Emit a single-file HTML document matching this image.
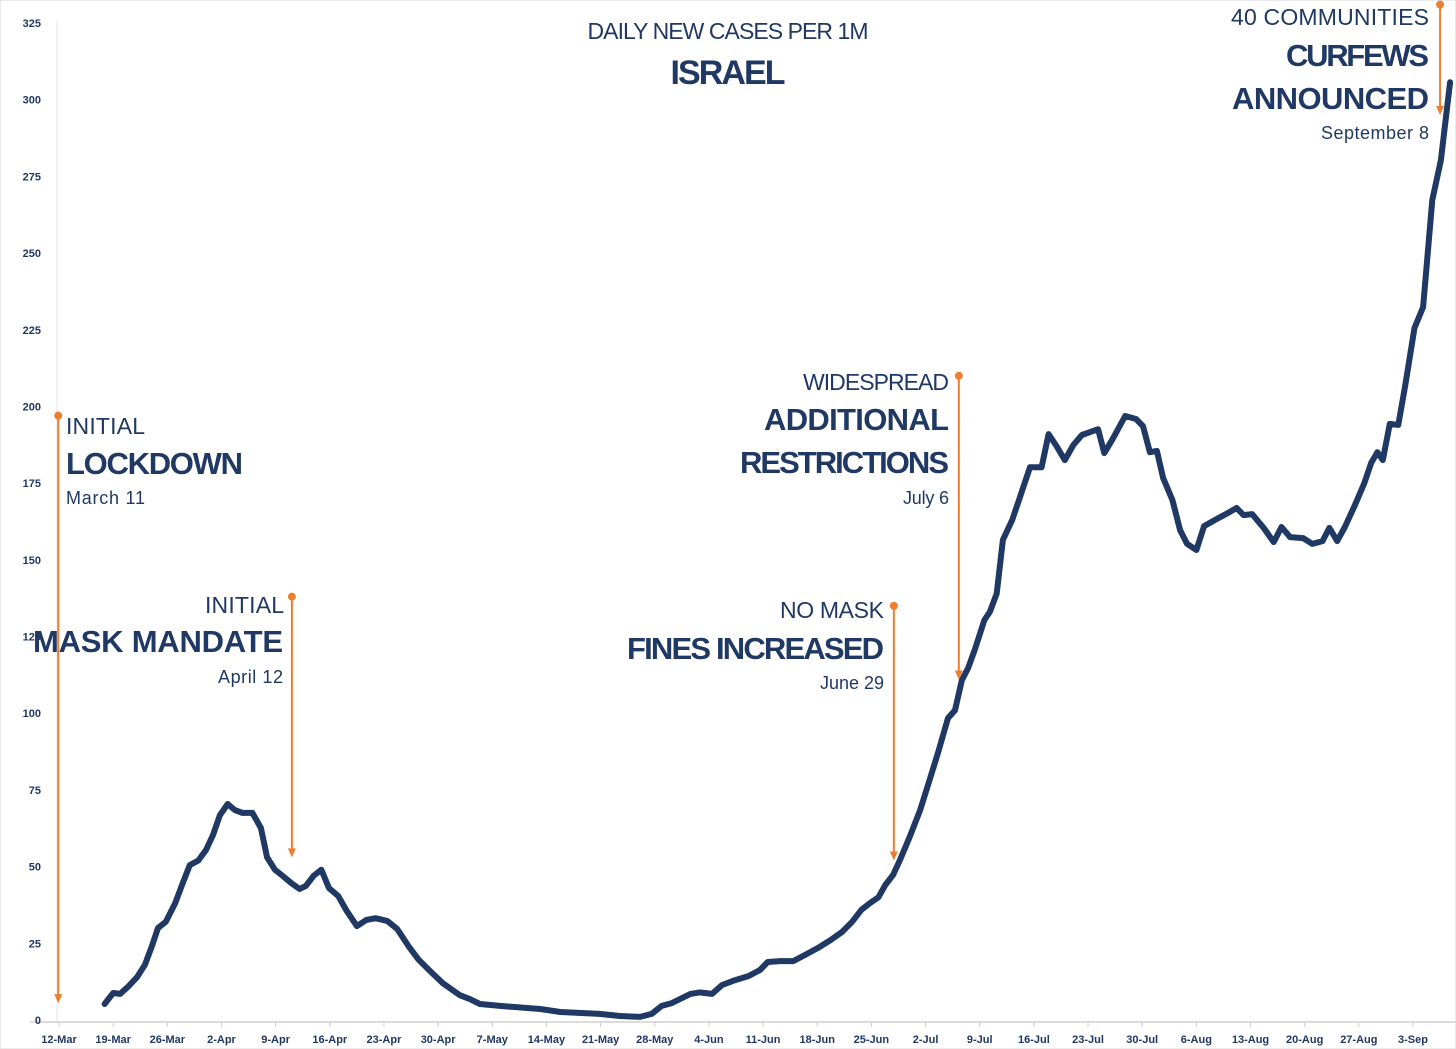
<!DOCTYPE html>
<html><head><meta charset="utf-8">
<style>
html,body{margin:0;padding:0;background:#fff;}
svg{display:block;font-family:"Liberation Sans",sans-serif;}
</style></head>
<body>
<svg id="chart" width="1456" height="1049" viewBox="0 0 1456 1049" xmlns="http://www.w3.org/2000/svg">
<rect x="0" y="0" width="1456" height="1049" fill="#fff" stroke="#d9d9d9" stroke-width="1"/>
<g id="axes"></g>
<g id="series"></g>
<g id="annot" fill="#1F3864">
  <text x="728" y="39" font-size="23" text-anchor="middle" textLength="281">DAILY NEW CASES PER 1M</text>
  <text x="728" y="84" font-size="34" font-weight="bold" text-anchor="middle" textLength="115">ISRAEL</text>

  <text x="66" y="434" font-size="23" textLength="79">INITIAL</text>
  <text x="66" y="474" font-size="31" font-weight="bold" textLength="177">LOCKDOWN</text>
  <text x="66" y="504" font-size="18" textLength="79">March 11</text>

  <text x="284" y="613" font-size="23" text-anchor="end" textLength="79">INITIAL</text>
  <text x="283" y="652" font-size="31" font-weight="bold" text-anchor="end" textLength="250">MASK MANDATE</text>
  <text x="283" y="683" font-size="18" text-anchor="end" textLength="65">April 12</text>

  <text x="884" y="618" font-size="23" text-anchor="end" textLength="104">NO MASK</text>
  <text x="884" y="659" font-size="31" font-weight="bold" text-anchor="end" textLength="257">FINES INCREASED</text>
  <text x="884" y="689" font-size="18" text-anchor="end" textLength="64">June 29</text>

  <text x="949" y="390" font-size="23" text-anchor="end" textLength="146">WIDESPREAD</text>
  <text x="949" y="430" font-size="31" font-weight="bold" text-anchor="end" textLength="185">ADDITIONAL</text>
  <text x="949" y="473" font-size="31" font-weight="bold" text-anchor="end" textLength="209">RESTRICTIONS</text>
  <text x="949" y="504" font-size="18" text-anchor="end" textLength="46">July 6</text>

  <text x="1429" y="25" font-size="23" text-anchor="end" textLength="198">40 COMMUNITIES</text>
  <text x="1429" y="66" font-size="31" font-weight="bold" text-anchor="end" textLength="143">CURFEWS</text>
  <text x="1429" y="109" font-size="31" font-weight="bold" text-anchor="end" textLength="197">ANNOUNCED</text>
  <text x="1429" y="139" font-size="18" text-anchor="end" textLength="108">September 8</text>
</g>
<g id="arrows"></g>
</svg>
<script>
// Data: day index from 12-Mar, daily new cases per 1M
const days = [5.9,7,7.9,8.9,10.1,11.1,12,12.8,13.8,15,16,16.9,18,19,19.9,20.8,21.8,22.7,23.7,25,26.1,26.9,27.9,28.9,30,31.1,31.9,32.9,33.9,34.9,36.1,37.2,38.5,39.7,40.9,42.4,43.7,45.2,46.5,48.1,49.6,51.8,53.1,54.4,57,62.2,64.8,69.9,72.5,75.1,76.6,77.9,79.2,81.6,82.8,84.4,85.7,87.4,89.1,90.6,91.6,93.2,94.9,96.4,98.1,99.7,101.2,102.5,103.7,104.8,105.9,106.8,107.8,108.7,110,111.3,112.6,113.6,114.9,115.8,116.7,117.5,118.4,119.6,120.3,121.2,122,123.2,124.2,125.5,127,127.9,129,130,131.1,132.2,133.3,134.3,135.1,136.1,137.8,139.2,140.1,141,141.9,142.7,143.9,144.9,145.8,147,148,149.4,151.1,152.2,153.1,154.2,155.7,157,158,159.1,160.8,162,163.3,164.2,165.2,166.2,167.5,168.7,169.6,170.4,171.1,172,173.1,174,175.2,176.3,177.5,178.6,179.8];
const cases = [5.2,8.8,8.5,10.8,14,18,24,30,32,38,44.7,50.5,52,55.4,60.3,66.8,70.4,68.5,67.5,67.5,62.6,53,49,47,44.7,42.7,43.7,47,49,43,40.4,35.5,30.6,32.6,33.2,32.3,29.7,24,19.6,15.6,12,8.1,6.8,5.2,4.6,3.6,2.6,2,1.3,1,2,4.6,5.5,8.5,9,8.5,11.4,13,14.3,16.3,18.9,19.2,19.2,21.2,23.5,26,28.7,32,35.9,38.1,40,44,47.3,52.2,60,68.4,78.9,87,98.4,101,110.8,114.7,121,130.4,133,139,156.5,163,170.5,180.2,180.2,191,186.8,182.5,187.4,190.7,191.7,192.6,184.8,189,196.9,195.9,193.6,185.1,185.5,176.7,169.5,159.7,155.2,153.2,161,163,165.3,166.9,164.6,164.9,160.4,155.8,160.7,157.4,157.1,155.2,156.1,160.4,156.1,160.7,167.9,175,181.6,185.1,182.5,194.3,194,207,225.6,232.4,267.3,280.3,305.7];
const xTickLabels = ["12-Mar","19-Mar","26-Mar","2-Apr","9-Apr","16-Apr","23-Apr","30-Apr","7-May","14-May","21-May","28-May","4-Jun","11-Jun","18-Jun","25-Jun","2-Jul","9-Jul","16-Jul","23-Jul","30-Jul","6-Aug","13-Aug","20-Aug","27-Aug","3-Sep"];
const yTickValues = [0,25,50,75,100,125,150,175,200,225,250,275,300,325];
const eventDays = [-0.1,30.1,107.9,116.3,178.5];
const eventTops = [197,138,135,210,331];
const eventBottoms = [5.5,53,52,111,295];

const NS="http://www.w3.org/2000/svg";
function xS(d){return 59 + d*(1413-59)/175;}
function yS(v){return 1020 - v*(1020-23)/325;}
function mk(tag,attrs,parent){const e=document.createElementNS(NS,tag);for(const k in attrs)e.setAttribute(k,attrs[k]);parent.appendChild(e);return e;}

const axes=document.getElementById('axes');
let l=mk('line',{x1:30,x2:1456,y1:1022,y2:1022,stroke:'#d0d0d0','stroke-width':1.5},axes);


l=mk('line',{x1:57,x2:57,y1:20,y2:1022,stroke:'#e4e4e4','stroke-width':1},axes);


yTickValues.forEach(v=>{
  const t=mk('text',{x:41,y:yS(v)+4,'font-size':11,'font-weight':'bold','text-anchor':'end',fill:'#1F3864'},axes);
  t.textContent=v;
  
  
});
xTickLabels.forEach((s,i)=>{
  const x=xS(i*7);
  const tk=mk('line',{x1:x,x2:x,y1:1022,y2:1027,stroke:'#d0d0d0'},axes);
  
  
  const t=mk('text',{x:x,y:1043,'font-size':11,'font-weight':'bold','text-anchor':'middle',fill:'#1F3864'},axes);
  t.textContent=s;
  
  
});

const series=document.getElementById('series');
const pts=days.map((d,i)=>xS(d).toFixed(1)+','+yS(cases[i]).toFixed(1)).join(' ');
const pl=mk('polyline',{points:pts,fill:'none',stroke:'#1F3864','stroke-width':6,'stroke-linejoin':'round','stroke-linecap':'round'},series);



const arrows=document.getElementById('arrows');
eventDays.forEach((d,i)=>{
  const x=xS(d), y1=yS(eventTops[i]), y2=yS(eventBottoms[i]);
  const g=mk('g',{},arrows);
  
  
  mk('line',{x1:x,x2:x,y1:y1,y2:y2-7,stroke:'#ED7D31','stroke-width':2},g);
  mk('circle',{cx:x,cy:y1,r:4,fill:'#ED7D31'},g);
  mk('polygon',{points:`${x-4},${y2-9} ${x+4},${y2-9} ${x},${y2}`,fill:'#ED7D31'},g);
});
</script>
</body></html>
